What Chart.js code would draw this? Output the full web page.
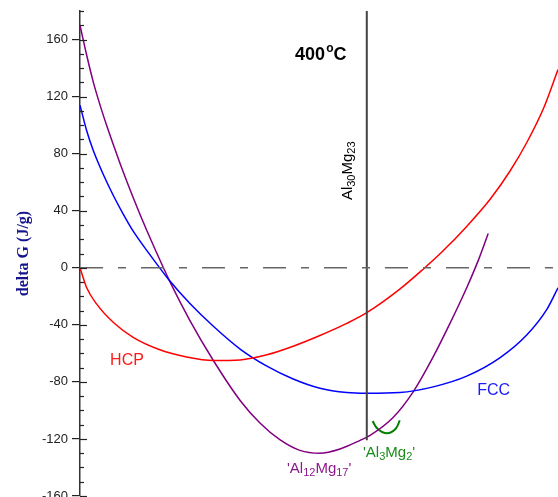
<!DOCTYPE html>
<html>
<head>
<meta charset="utf-8">
<script src="https://cdn.jsdelivr.net/npm/chart.js@4/dist/chart.umd.min.js"></script>
<style>
    body { margin: 0; background: #fff; }
    #wrap { position: relative; width: 558px; height: 497px; }
</style>
</head>
<body>
<div id="wrap"><canvas id="chart"></canvas></div>
<script>
// x is composition (0..100 across the plot), y is delta G in J/g
const hcpX = [0, 1.4, 3.5, 7.0, 11.2, 16.7, 22.3, 27.9, 33.5, 39.1, 44.6, 50.2, 55.8, 60.0, 66.9, 71.8, 75.7, 80.9, 85.8, 90.0, 93.5, 97.0, 100];
const hcpG = [0, -14, -25.5, -38.4, -49, -57.5, -62.5, -65, -64.6, -61, -55, -47.5, -39, -31.5, -15, -1, 11, 29, 48, 68, 88, 112, 139];

const fccX = [0, 1.4, 2.8, 4.9, 7.0, 9.1, 11.2, 14.0, 18.5, 23.0, 27.9, 33.5, 39.1, 44.6, 50.2, 55.8, 60.0, 66.9, 73.9, 80.9, 87.9, 93.5, 97.7, 100];
const fccG = [114, 96, 82, 65.2, 50.5, 37.3, 25.3, 12, -8, -25, -41, -57, -69, -78, -84.5, -87.5, -88, -87.5, -83.5, -76, -63, -47, -29, -14];

const al12X = [0, 1.4, 2.8, 4.2, 5.6, 7.0, 8.4, 9.8, 11.2, 12.6, 14.0, 15.7, 18.7, 23.0, 27.9, 33.5, 37.7, 41.8, 46.0, 50.2, 54.4, 58.6, 60.7, 65.5, 69.7, 73.8, 77.4, 80.9, 83.3, 85.4];
const al12G = [170, 149, 130, 114, 99.5, 86, 73, 60.5, 48.5, 37, 26, 13, -9, -37, -65, -93, -109, -120.5, -128, -130, -127, -121, -117.5, -105, -87, -63, -39, -14, 5, 24];

const al3X = [61.2, 62.3, 64.2, 66.0, 66.9];
const al3G = [-107.5, -113, -116, -113, -107];

// Al30Mg23 composition marker and the zero line
const markerX = [60, 60];
const markerG = [180, -121];
const zeroX = [0, 100];
const zeroG = [0, 0];

const yMin = -160, yMax = 180, yStep = 10, yLabelStep = 40;

function pts(xs, ys) {
    return xs.map((x, i) => ({ x: x, y: ys[i] }));
}

// draw text with subscripts, parts = [[text, isSub], ...]
function drawParts(ctx, parts, x, y, size, bold) {
    let cx = x;
    parts.forEach(([t, sub]) => {
        const s = sub ? Math.round(size * 0.7) : size;
        ctx.font = (bold ? "bold " : "") + s + "px 'Liberation Sans', Arial, sans-serif";
        ctx.fillText(t, cx, sub ? y + size * 0.28 : y);
        cx += ctx.measureText(t).width;
    });
    return cx - x;
}

function partsWidth(ctx, parts, size) {
    let w = 0;
    parts.forEach(([t, sub]) => {
        const s = sub ? Math.round(size * 0.7) : size;
        ctx.font = s + "px 'Liberation Sans', Arial, sans-serif";
        w += ctx.measureText(t).width;
    });
    return w;
}

const extras = {
    id: "extras",
    afterDatasetsDraw(chart) {
        const ctx = chart.ctx;
        const xs = chart.scales.x, ys = chart.scales.y;
        const left = chart.chartArea.left;
        ctx.save();
        // inner ticks
        ctx.strokeStyle = "#222";
        ctx.lineWidth = 1.2;
        for (let v = yMin; v <= yMax; v += yStep) {
            const py = Math.round(ys.getPixelForValue(v)) + 0.5;
            const len = v % yLabelStep === 0 ? 7 : 4;
            ctx.beginPath();
            ctx.moveTo(left, py);
            ctx.lineTo(left + len, py);
            ctx.stroke();
        }
        ctx.textBaseline = "middle";
        ctx.textAlign = "left";

        ctx.fillStyle = "#ff1a1a";
        ctx.font = "16px 'Liberation Sans', Arial, sans-serif";
        ctx.fillText("HCP", xs.getPixelForValue(6.3), ys.getPixelForValue(-65));

        ctx.fillStyle = "#1a1aff";
        ctx.fillText("FCC", xs.getPixelForValue(83.1), ys.getPixelForValue(-86));

        ctx.fillStyle = "#8b1a8b";
        drawParts(ctx, [["'Al", false], ["12", true], ["Mg", false], ["17", true], ["'", false]],
            xs.getPixelForValue(43.3), ys.getPixelForValue(-141), 15, false);

        ctx.fillStyle = "#1a8c1a";
        drawParts(ctx, [["'Al", false], ["3", true], ["Mg", false], ["2", true], ["'", false]],
            xs.getPixelForValue(59.2), ys.getPixelForValue(-130), 15, false);

        // 400°C
        ctx.fillStyle = "#000";
        let tx = xs.getPixelForValue(45), ty = ys.getPixelForValue(148.8);
        ctx.font = "bold 18px 'Liberation Sans', Arial, sans-serif";
        ctx.fillText("400", tx, ty);
        tx += ctx.measureText("400").width + 1;
        ctx.font = "bold 12px 'Liberation Sans', Arial, sans-serif";
        ctx.fillText("o", tx, ty - 7);
        tx += ctx.measureText("o").width;
        ctx.font = "bold 18px 'Liberation Sans', Arial, sans-serif";
        ctx.fillText("C", tx, ty);

        // rotated Al30Mg23
        const rParts = [["Al", false], ["30", true], ["Mg", false], ["23", true]];
        const w = partsWidth(ctx, rParts, 15);
        ctx.translate(xs.getPixelForValue(56.1), ys.getPixelForValue(68));
        ctx.rotate(-Math.PI / 2);
        ctx.fillStyle = "#000";
        drawParts(ctx, rParts, -w / 2, 0, 15, false);
        ctx.restore();
    }
};

const curve = { pointRadius: 0, borderWidth: 1.5, cubicInterpolationMode: "monotone" };

new Chart(document.getElementById("chart"), {
    type: "line",
    data: {
        datasets: [
            { data: pts(zeroX, zeroG), borderColor: "#666", borderWidth: 1.6, borderDash: [23, 15, 8, 15], pointRadius: 0, tension: 0 },
            { data: pts(markerX, markerG), borderColor: "#444", borderWidth: 2, pointRadius: 0, tension: 0 },
            { label: "HCP", data: pts(hcpX, hcpG), borderColor: "#ff0000", ...curve },
            { label: "FCC", data: pts(fccX, fccG), borderColor: "#0000ff", ...curve },
            { label: "Al12Mg17", data: pts(al12X, al12G), borderColor: "#800080", ...curve },
            { label: "Al3Mg2", data: pts(al3X, al3G), borderColor: "#008000", pointRadius: 0, borderWidth: 2, tension: 0.4 }
        ]
    },
    options: {
        animation: false,
        responsive: true,
        maintainAspectRatio: false,
        layout: { padding: { top: 11, right: 0, bottom: 1, left: 0 } },
        plugins: { legend: { display: false }, tooltip: { enabled: false } },
        scales: {
            x: { type: "linear", min: 0, max: 100, display: false },
            y: {
                min: yMin,
                max: yMax,
                afterFit(scale) {
                    scale.width = 80;
                    scale.paddingTop = 0;
                    scale.paddingBottom = 0;
                },
                ticks: {
                    stepSize: yStep,
                    autoSkip: false,
                    padding: 4,
                    color: "#222",
                    font: { family: "'Liberation Sans', Arial, sans-serif", size: 13 },
                    callback: (v) => (v % yLabelStep === 0 ? v : "")
                },
                grid: {
                    drawOnChartArea: false,
                    tickLength: 8,
                    lineWidth: 1.2,
                    color: (c) => (c.tick && c.tick.value % yLabelStep === 0 ? "#222" : "rgba(0,0,0,0)")
                },
                border: { display: true, color: "#333", width: 1.5 },
                title: {
                    display: true,
                    text: "delta G (J/g)",
                    color: "#14148c",
                    padding: { top: 14, bottom: 0 },
                    font: { family: "'Liberation Serif', 'Times New Roman', serif", size: 16, weight: "bold" }
                }
            }
        }
    },
    plugins: [extras]
});
</script>
</body>
</html>
